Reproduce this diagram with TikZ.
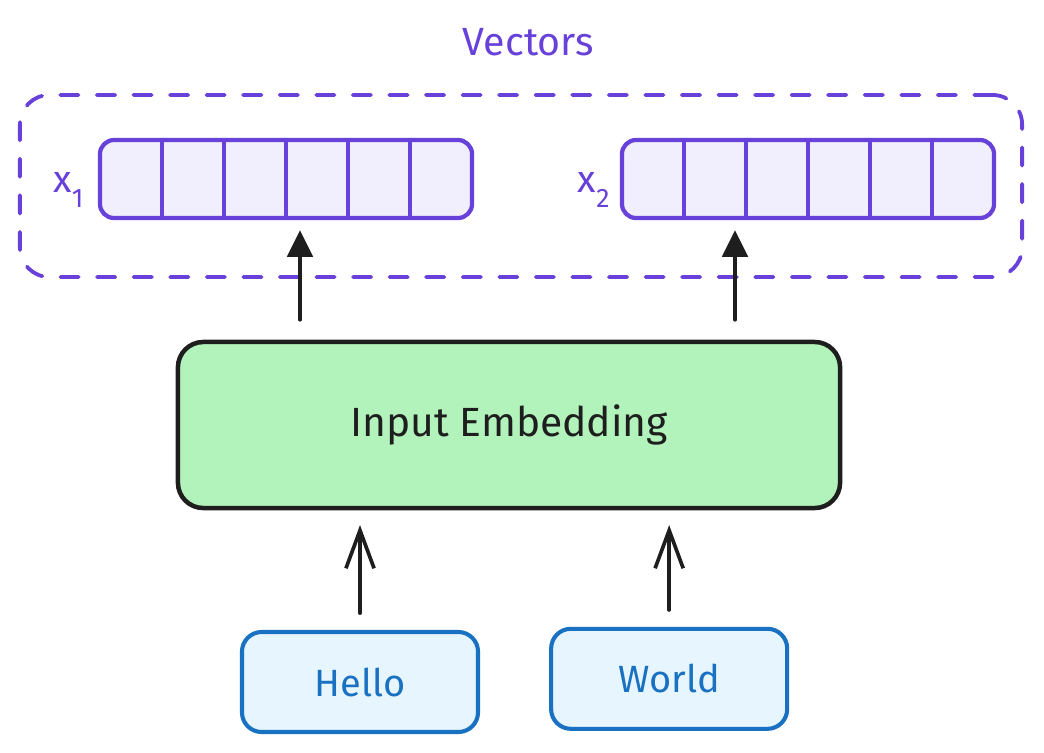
\documentclass[tikz,border=0pt]{standalone}
\usepackage{fontspec}
\setmainfont{Fira Sans}
\usepackage{tikz}
\usetikzlibrary{arrows.meta}
\usetikzlibrary{positioning}

\definecolor{vecline}{HTML}{6741D9}
\definecolor{vecfill}{HTML}{F1EEFD}
\definecolor{embfill}{HTML}{B2F2BB}
\definecolor{ink}{HTML}{1E1E1E}
\definecolor{wordline}{HTML}{1971C2}
\definecolor{wordfill}{HTML}{E7F5FF}

\newcommand{\lowsub}[1]{\raisebox{-0.4em}{\fontsize{19}{19}\selectfont #1}}

\begin{document}
\begin{tikzpicture}[x=0.025cm,y=-0.025cm,line cap=round,line join=round,node distance=0.4cm]
  \tikzstyle{group}=[draw=vecline, line width=2.7pt, dash pattern=on 13pt off 13pt, rounded corners=21pt, minimum width=25.05cm, minimum height=4.55cm]
  \tikzstyle{vec}=[draw=vecline, fill=vecfill, line width=3pt, rounded corners=10pt, minimum width=9.3cm, minimum height=1.95cm, inner sep=0pt]
  \tikzstyle{cell}=[draw=vecline, line width=2.8pt]
  \tikzstyle{title}=[text=vecline, inner sep=0pt, font=\fontsize{28}{30}\selectfont]
  \tikzstyle{lbl}=[text=vecline, inner sep=0pt, font=\fontsize{27}{28}\selectfont]
  \tikzstyle{emb}=[draw=ink, fill=embfill, line width=3.2pt, rounded corners=18pt, minimum width=16.55cm, minimum height=4.15cm, text=ink, font=\fontsize{29}{32}\selectfont]
  \tikzstyle{word}=[draw=wordline, fill=wordfill, line width=2.9pt, rounded corners=14pt, minimum width=5.9cm, minimum height=2.5cm, text=wordline, font=\fontsize{27}{30}\selectfont]
  \tikzstyle{up}=[draw=ink, line width=2.7pt, -{Triangle[length=19pt,width=18pt]}]
  \tikzstyle{feed}=[draw=ink, line width=2.6pt, -{Straight Barb[length=27pt,width=20pt]}]

  \useasboundingbox (0,0) rectangle (1044,752);

  % vectors group
  \node[group] (G) at (521,186) {};
  \node[title] (T) [above=0.93cm of G, xshift=0.18cm] {Vectors};
  \node[vec]   (X1) at (286,179) {};
  \node[vec]   (X2) at (808,179) {};
  \draw[cell] (162,140) -- (162,218) (224,140) -- (224,218) (286,140) -- (286,218)
              (348,140) -- (348,218) (410,140) -- (410,218);
  \draw[cell] (684,140) -- (684,218) (746,140) -- (746,218) (808,140) -- (808,218)
              (870,140) -- (870,218) (932,140) -- (932,218);
  \node[lbl] (L1) [left=0.35cm of X1, yshift=-0.28cm] {x\lowsub{1}};
  \node[lbl] (L2) [left=0.25cm of X2, yshift=-0.28cm] {x\lowsub{2}};

  % embedding and words
  \node[emb]  (E) at (509,425) {Input Embedding};
  \node[word] (H) at (360,682) {Hello};
  \node[word] (W) [right=1.725cm of H, yshift=0.08cm] {World};

  \coordinate (a1) at (300,322);
  \coordinate (a2) at (735,322);
  \draw[up] (E.north -| a1) -- (X1.south -| a1) [shorten <=0.5cm, shorten >=0.25cm];
  \draw[up] (E.north -| a2) -- (X2.south -| a2) [shorten <=0.5cm, shorten >=0.25cm];
  \draw[feed, shorten <=0.42cm, shorten >=0.37cm] (H.north) -- (H.north |- E.south);
  \draw[feed, shorten <=0.42cm, shorten >=0.37cm] (W.north) -- (W.north |- E.south);
\end{tikzpicture}
\end{document}
